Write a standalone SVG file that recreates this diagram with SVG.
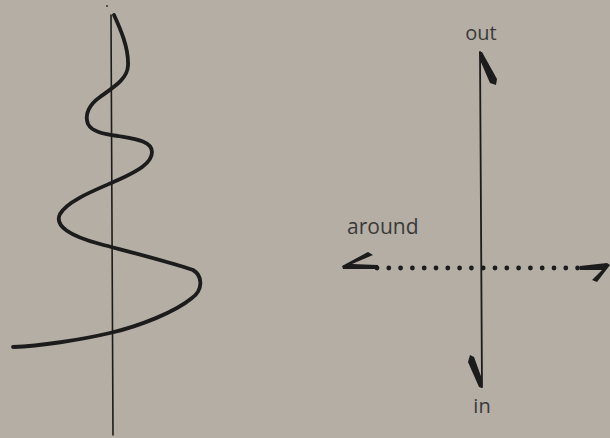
<svg xmlns="http://www.w3.org/2000/svg" width="610" height="438" viewBox="0 0 610 438">
<style>
.ink{stroke:#1c1c1c;fill:none;stroke-linecap:round;stroke-linejoin:round}
.fillink{fill:#1c1c1c;stroke:none}
.lbl{font-family:"Open Sans","DejaVu Sans",sans-serif;font-size:20px;fill:#3a3a3a}
</style>
<rect x="0" y="0" width="610" height="438" fill="#b4aea4"/>
<g id="helix">
  <circle cx="107" cy="6" r="1" fill="#333"/>
  <line class="ink" x1="111" y1="15" x2="113" y2="435" stroke-width="1.6"/>
  <path class="ink" stroke-width="3.8" d="M114,15 C120,28 129,48 128,66 C127,80 112,88 100,97 C90,104 84,114 88,124 C92,132 104,134 118,136 C135,139 152,141 152,152 C152,163 138,171 118,180 C98,189 68,200 60,214 C54,226 70,236 100,244 C130,252 170,262 193,270 C203,276 203,290 192,298 C175,312 140,326 110,333 C80,340 40,346 13,347"/>
</g>
<g id="axes">
  <line class="ink" x1="480" y1="52" x2="482" y2="387" stroke-width="1.8"/>
  <polygon class="fillink" points="479,52 482,52 497,79 496,85 490,83 480,60"/>
  <polygon class="fillink" points="482,388 479,387 468,362 470,355 474,357 482,379"/>
  <line x1="377" y1="268" x2="584" y2="268" stroke="#1c1c1c" stroke-width="4.8" stroke-linecap="round" stroke-dasharray="0 11.8"/>
  <polygon class="fillink" points="342,266 368,252 373,255 352,264 378,265 378,269 343,269"/>
  <polygon class="fillink" points="580,266 607,263 610,265 597,282 592,280 602,270 580,270"/>
</g>
<g id="labels">
  <text class="lbl" x="481" y="40" text-anchor="middle">out</text>
  <text class="lbl" x="482" y="413" text-anchor="middle">in</text>
  <text class="lbl" x="347" y="234" style="font-size:21px">around</text>
</g>
</svg>
